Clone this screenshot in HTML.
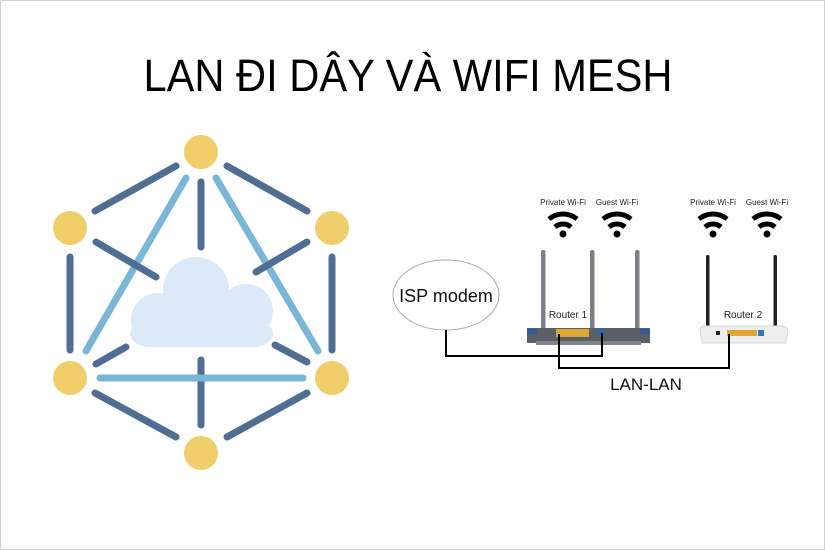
<!DOCTYPE html>
<html><head><meta charset="utf-8"><style>
html,body{margin:0;padding:0;background:#fff}
svg{display:block}
</style></head><body>
<svg width="825" height="550" viewBox="0 0 825 550" xmlns="http://www.w3.org/2000/svg">
<rect x="0.5" y="0.5" width="824" height="549" fill="#fff" stroke="#d0d0d0"/>
<text x="408" y="91" text-anchor="middle" font-family="Liberation Sans, sans-serif" font-size="45" textLength="529" lengthAdjust="spacingAndGlyphs" fill="#000">LAN ĐI DÂY VÀ WIFI MESH</text>

<!-- mesh -->
<g stroke="#7ab6d8" stroke-width="7" stroke-linecap="round">
<line x1="186" y1="178" x2="86" y2="351"/>
<line x1="216" y1="178" x2="318" y2="351"/>
</g>
<g stroke="#506d92" stroke-width="7" stroke-linecap="round">
<line x1="176" y1="166" x2="95" y2="211"/>
<line x1="227" y1="166" x2="307" y2="211"/>
<line x1="70" y1="257" x2="70" y2="350"/>
<line x1="332" y1="257" x2="332" y2="350"/>
<line x1="95" y1="393" x2="176" y2="437"/>
<line x1="227" y1="437" x2="307" y2="393"/>
<line x1="201" y1="182" x2="201" y2="247"/>
<line x1="201" y1="360" x2="201" y2="425"/>
<line x1="96" y1="242" x2="156" y2="277"/>
<line x1="256" y1="272" x2="307" y2="242"/>
<line x1="96" y1="364" x2="126" y2="347"/>
<line x1="275" y1="345" x2="307" y2="362"/>
</g>
<g stroke="#7ab6d8" stroke-width="7" stroke-linecap="round">
<line x1="100" y1="378" x2="303" y2="378"/>
</g>
<g fill="#dce9f8">
<circle cx="196" cy="290" r="33"/>
<circle cx="246" cy="311" r="27"/>
<circle cx="158" cy="320" r="27"/>
<rect x="150" y="310" width="100" height="37" rx="10"/>
<rect x="130" y="320" width="143" height="27" rx="20"/>
</g>
<g fill="#f0ce6a">
<circle cx="201" cy="152" r="17"/>
<circle cx="70" cy="228" r="17"/>
<circle cx="332" cy="228" r="17"/>
<circle cx="70" cy="378" r="17"/>
<circle cx="332" cy="378" r="17"/>
<circle cx="201" cy="453" r="17"/>
</g>

<!-- network -->
<ellipse cx="446" cy="295" rx="53" ry="35" fill="#fff" stroke="#aaa" stroke-width="1"/>
<text x="446" y="302" text-anchor="middle" font-family="Liberation Sans, sans-serif" font-size="18" fill="#111">ISP modem</text>

<g font-family="Liberation Sans, sans-serif" font-size="8" fill="#222" text-anchor="middle">
<text x="563" y="205">Private Wi-Fi</text>
<text x="617" y="205">Guest Wi-Fi</text>
<text x="713" y="205">Private Wi-Fi</text>
<text x="767" y="205">Guest Wi-Fi</text>
</g>
<g fill="none" stroke="#000" stroke-width="5">
<path d="M549 219 A22 22 0 0 1 577 219"/><path d="M555 227 A12 12 0 0 1 571 227"/><circle cx="563" cy="234" r="3.5" fill="#000" stroke="none"/>
<path d="M603 219 A22 22 0 0 1 631 219"/><path d="M609 227 A12 12 0 0 1 625 227"/><circle cx="617" cy="234" r="3.5" fill="#000" stroke="none"/>
<path d="M699 219 A22 22 0 0 1 727 219"/><path d="M705 227 A12 12 0 0 1 721 227"/><circle cx="713" cy="234" r="3.5" fill="#000" stroke="none"/>
<path d="M753 219 A22 22 0 0 1 781 219"/><path d="M759 227 A12 12 0 0 1 775 227"/><circle cx="767" cy="234" r="3.5" fill="#000" stroke="none"/>
</g>

<!-- router 1 -->
<g fill="#7d8087">
<rect x="541" y="250" width="4.5" height="82" rx="2"/>
<rect x="590" y="250" width="4.5" height="82" rx="2"/>
<rect x="635" y="250" width="4.5" height="82" rx="2"/>
</g>
<rect x="527" y="328" width="123" height="15" fill="#5a5f68"/>
<rect x="527" y="329" width="10" height="5" fill="#2e5a9c"/>
<rect x="640" y="329" width="10" height="5" fill="#2e5a9c"/>
<rect x="536" y="341" width="105" height="4" fill="#80858c"/>
<rect x="556" y="329" width="33" height="8" fill="#e0a632"/>
<rect x="598" y="329" width="6" height="7" fill="#2e66b0"/>
<text x="568" y="318" text-anchor="middle" font-family="Liberation Sans, sans-serif" font-size="10" fill="#222">Router 1</text>

<!-- router 2 -->
<g fill="#222">
<rect x="706" y="255" width="3.5" height="85" rx="1.5"/>
<rect x="773.5" y="255" width="3.5" height="85" rx="1.5"/>
</g>
<path d="M700 330 Q700 326 706 326 L782 326 Q788 326 788 332 L786 343 L702 343 Z" fill="#eceef0" stroke="#d5d7da" stroke-width="1"/>
<rect x="727" y="330" width="30" height="6" fill="#e0a632"/>
<rect x="758" y="330" width="6" height="6" fill="#2e78c0"/>
<rect x="716" y="331" width="4" height="4" fill="#222"/>
<text x="743" y="318" text-anchor="middle" font-family="Liberation Sans, sans-serif" font-size="10" fill="#222">Router 2</text>

<!-- wires -->
<g fill="none" stroke="#000" stroke-width="2">
<polyline points="446,330 446,356 602,356 602,333"/>
<polyline points="559,334 559,368 729,368 729,334"/>
</g>
<text x="646" y="390" text-anchor="middle" font-family="Liberation Sans, sans-serif" font-size="17" fill="#111">LAN-LAN</text>
</svg>
</body></html>
